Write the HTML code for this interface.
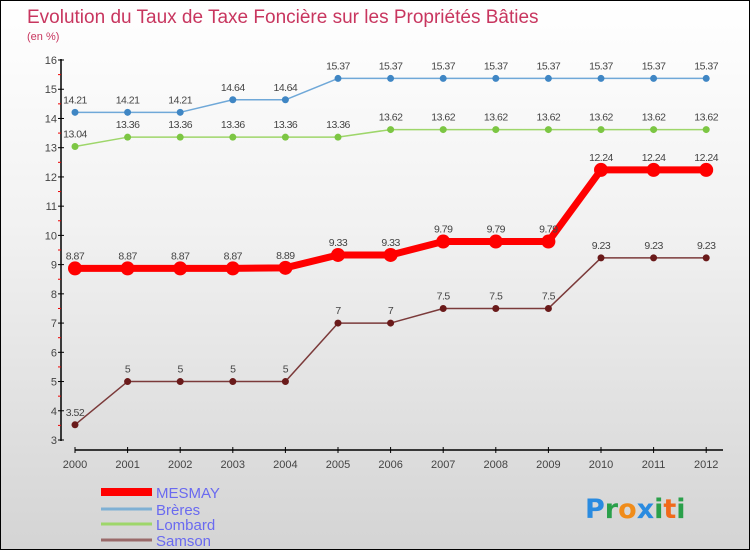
<!DOCTYPE html>
<html><head><meta charset="utf-8"><style>
html,body{margin:0;padding:0}
body{width:750px;height:550px;overflow:hidden;font-family:"Liberation Sans",sans-serif}
#wrap{position:relative;width:748px;height:548px;border:1px solid #000;background:linear-gradient(#ffffff,#f2f2f2 40%,#d4d4d4)}
</style></head><body>
<div id="wrap">
<svg id="chart" width="748" height="548"></svg>
</div>
<script>
const years=[2000,2001,2002,2003,2004,2005,2006,2007,2008,2009,2010,2011,2012];
const mesmay=[8.87,8.87,8.87,8.87,8.89,9.33,9.33,9.79,9.79,9.79,12.24,12.24,12.24];
const breres=[14.21,14.21,14.21,14.64,14.64,15.37,15.37,15.37,15.37,15.37,15.37,15.37,15.37];
const lombard=[13.04,13.36,13.36,13.36,13.36,13.36,13.62,13.62,13.62,13.62,13.62,13.62,13.62];
const samson=[3.52,5,5,5,5,7,7,7.5,7.5,7.5,9.23,9.23,9.23];
const yTicks=[3,4,5,6,7,8,9,10,11,12,13,14,15,16];
const seriesNames=["MESMAY","Brères","Lombard","Samson"];

const NS="http://www.w3.org/2000/svg";
const svg=document.getElementById('chart');
const X=i=>74+i*52.6;
const Y=v=>439-(v-3)*29.23;
function el(tag,attrs,parent){const e=document.createElementNS(NS,tag);for(const k in attrs)e.setAttribute(k,attrs[k]);(parent||svg).appendChild(e);return e;}
function txt(x,y,s,attrs){const t=el('text',Object.assign({x:x,y:y},attrs));t.textContent=s;return t;}

let t=txt(26,22,"Evolution du Taux de Taxe Foncière sur les Propriétés Bâties",{fill:"#c8365f","font-size":"19"});

t=txt(26,39,"(en %)",{fill:"#c8365f","font-size":"11"});


let a=el('line',{x1:60,y1:58,x2:60,y2:440,stroke:"#000","stroke-width":1.5});

yTicks.forEach(v=>{
 el('line',{x1:57,x2:63,y1:Y(v),y2:Y(v),stroke:"#000"});
 if(v<16) el('line',{x1:57,x2:60,y1:Y(v+0.5),y2:Y(v+0.5),stroke:"#e00"});
 const l=txt(56,Y(v)+4,String(v),{fill:"#444","font-size":"11","text-anchor":"end"});
 
});
a=el('line',{x1:74,y1:449,x2:722,y2:449,stroke:"#000","stroke-width":1.5});

years.forEach((yr,i)=>{
 el('line',{x1:X(i),x2:X(i),y1:446,y2:452,stroke:"#000"});
 const l=txt(X(i),467,String(yr),{fill:"#444","font-size":"11","text-anchor":"middle"});
 
});

function series(vals,color,w,r,name,dot){
 const g=el('g',{});
 
 el('polyline',{points:vals.map((v,i)=>X(i)+","+Y(v)).join(" "),fill:"none",stroke:color,"stroke-width":w,"stroke-linejoin":"round"},g);
 vals.forEach((v,i)=>{
  const c=el('circle',{cx:X(i),cy:Y(v),r:r,fill:dot},g);
  
  const l=txt(X(i),Y(v)-9,String(v),{fill:"#444","font-size":"10.5","text-anchor":"middle","letter-spacing":"-0.5"},g);
  
 });
}
series(breres,"#6fa8d8",1.5,3.5,"breres","#3f86c4");
series(lombard,"#9ed66a",1.5,3.5,"lombard","#7cc643");
series(samson,"#7b3a3a",1.5,3.5,"samson","#6a1a1a");
series(mesmay,"#f00",7,7,"mesmay","#f00");

const legColors=["#f00","#7fb0d4","#9ed66a","#9a6a6a"];
const legW=[8,3,3,3];
const legY=[491,508,523,539];
seriesNames.forEach((n,i)=>{
 const g=el('g',{});
 
 el('line',{x1:100,x2:151,y1:legY[i],y2:legY[i],stroke:legColors[i],"stroke-width":legW[i]},g);
 txt(155,legY[i]+6,n,{fill:"#6a6af0","font-size":"15"},g);
});

const logo=el('text',{x:584,y:517,"font-size":"27","font-family":"DejaVu Sans, sans-serif","font-weight":"bold"});

[["P","#2a8be0"],["r","#2aa04a"],["o","#f08c1a"],["x","#2a8be0"],["i","#2aa04a"],["t","#f06a1a"],["i","#2aa04a"]].forEach(([c,col])=>{const s=el('tspan',{fill:col},logo);s.textContent=c;});
</script>
</body></html>
